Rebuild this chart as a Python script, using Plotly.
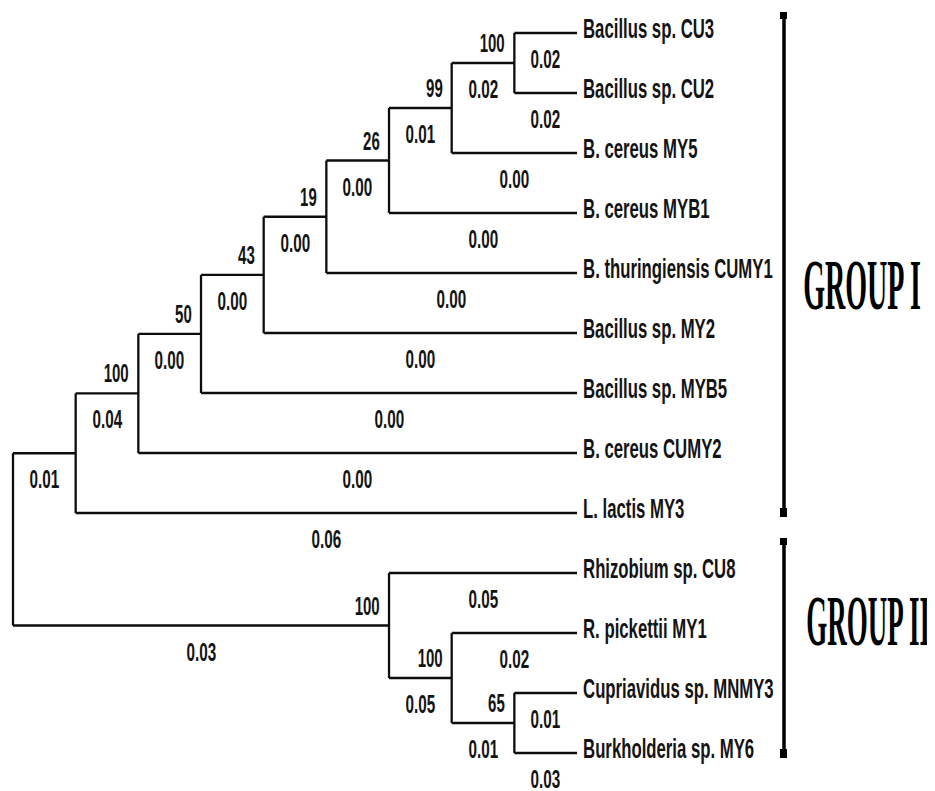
import json
import plotly.graph_objects as go

# ---------------- data ----------------
tip_labels = [
    "Bacillus sp. CU3", "Bacillus sp. CU2", "B. cereus MY5", "B. cereus MYB1",
    "B. thuringiensis CUMY1", "Bacillus sp. MY2", "Bacillus sp. MYB5",
    "B. cereus CUMY2", "L. lactis MY3", "Rhizobium sp. CU8", "R. pickettii MY1",
    "Cupriavidus sp. MNMY3", "Burkholderia sp. MY6",
]
edge_parent = ["H", "H", "G", "G", "F", "F", "E", "E", "D", "D", "C", "C",
               "B", "B", "A", "A", "root", "root", "K", "K", "J", "J", "I", "I"]
edge_child = ["Bacillus sp. CU3", "Bacillus sp. CU2", "H", "B. cereus MY5",
              "G", "B. cereus MYB1", "F", "B. thuringiensis CUMY1",
              "E", "Bacillus sp. MY2", "D", "Bacillus sp. MYB5",
              "C", "B. cereus CUMY2", "B", "L. lactis MY3", "A", "K",
              "Rhizobium sp. CU8", "J", "R. pickettii MY1", "I",
              "Cupriavidus sp. MNMY3", "Burkholderia sp. MY6"]
branch_lengths = [0.02, 0.02, 0.02, 0.00, 0.01, 0.00, 0.00, 0.00, 0.00, 0.00,
                  0.00, 0.00, 0.00, 0.00, 0.04, 0.06, 0.01, 0.03, 0.05, 0.05,
                  0.02, 0.01, 0.01, 0.03]
bootstrap_nodes = ["H", "G", "F", "E", "D", "C", "B", "K", "J", "I"]
bootstrap_values = [100, 99, 26, 19, 43, 50, 100, 100, 100, 65]
group_names = ["GROUP I", "GROUP II"]

# ---------------- layout of the tree (topology only, tips aligned) -------------
children = {}
for p, c in zip(edge_parent, edge_child):
    children.setdefault(p, []).append(c)

node_y = {t: i for i, t in enumerate(tip_labels)}
height = {t: 0 for t in tip_labels}


def place(n):
    if n in node_y:
        return
    for c in children[n]:
        place(c)
    node_y[n] = sum(node_y[c] for c in children[n]) / len(children[n])
    height[n] = 1 + max(height[c] for c in children[n])


place("root")
max_h = height["root"]
node_x = {n: max_h - h for n, h in height.items()}

# pixel mapping of the data axes (page body has an 8px margin)
PAD = 8
W, H = 935 - PAD, 791 - PAD
X0, XS = 13.0 - PAD, 62.67   # px of level 0, px per level
Y0, YS = 33.0 - PAD, 60.0    # px of tip 0, px per tip
x_range = [-X0 / XS, (W - X0) / XS]
y_range = [(H - Y0) / YS, -Y0 / YS]


def px2x(px):
    return (px - PAD - X0) / XS


def px2y(py):
    return (py - PAD - Y0) / YS


LINE = "#0d0d0d"
xs, ys = [], []
for n, ch in children.items():
    cy = [node_y[c] for c in ch]
    xs += [node_x[n], node_x[n], None]
    ys += [min(cy), max(cy), None]
for p, c in zip(edge_parent, edge_child):
    xs += [node_x[p], node_x[c], None]
    ys += [node_y[c], node_y[c], None]

fig = go.Figure()
fig.add_trace(go.Scatter(x=xs, y=ys, mode="lines",
                         line=dict(color=LINE, width=2.3),
                         hoverinfo="skip", showlegend=False))

SANS = "Liberation Sans, Arial, sans-serif"
TXT = "#141414"
ann, scales, origins = [], [], []
for p, c, v in zip(edge_parent, edge_child, branch_lengths):
    ann.append(dict(x=(node_x[p] + node_x[c]) / 2, y=node_y[c], text=f"{v:.2f}",
                    showarrow=False, yshift=-26, xanchor="center", yanchor="middle",
                    font=dict(family=SANS, size=25, color=TXT, weight="bold")))
    scales.append(0.61)
    origins.append("center")
for n, b in zip(bootstrap_nodes, bootstrap_values):
    ann.append(dict(x=node_x[n], y=node_y[n], text=str(b), showarrow=False,
                    xanchor="right", yanchor="middle", xshift=-7, yshift=20,
                    font=dict(family=SANS, size=25, color=TXT, weight="bold")))
    scales.append(0.6)
    origins.append("right")
for t in tip_labels:
    ann.append(dict(x=node_x[t], y=node_y[t], text=t, showarrow=False,
                    xanchor="left", yanchor="middle", xshift=4, yshift=4,
                    font=dict(family=SANS, size=27, color=TXT, weight="bold")))
    scales.append(0.62)
    origins.append("left")

# group brackets and labels
brackets = [(12, 517), (538, 758)]
label_pos = [(862, 285), (868, 621)]
label_scale = [0.39, 0.375]
shapes = []
for (top, bot), name, (lx, ly), s in zip(brackets, group_names, label_pos, label_scale):
    shapes.append(dict(type="line", xref="x", yref="y", x0=px2x(784), x1=px2x(784),
                       y0=px2y(top), y1=px2y(bot), line=dict(color="#000", width=3.5)))
    for a, b in ((top, top + 7), (bot - 9, bot)):
        shapes.append(dict(type="rect", xref="x", yref="y", x0=px2x(780), x1=px2x(787),
                           y0=px2y(a), y1=px2y(b), line=dict(width=0),
                           fillcolor="#000"))
    ann.append(dict(x=px2x(lx), y=px2y(ly), text=name, showarrow=False,
                    xanchor="center", yanchor="middle",
                    font=dict(family="Liberation Serif, Times New Roman, serif",
                              size=72, color="#000", weight="bold")))
    scales.append(s)
    origins.append("center")

fig.update_layout(
    width=W, height=H, margin=dict(l=0, r=0, t=0, b=0),
    paper_bgcolor="white", plot_bgcolor="white",
    xaxis=dict(range=x_range, visible=False, fixedrange=True),
    yaxis=dict(range=y_range, visible=False, fixedrange=True),
    annotations=ann, shapes=shapes,
)

# the reference uses horizontally condensed lettering: squeeze each label
post = """
var gd = document.getElementById('{plot_id}');
var S = %s, O = %s;
gd.querySelectorAll('g.annotation').forEach(function(g){
  var i = +g.getAttribute('data-index');
  var t = g.querySelector('text.annotation-text');
  if (!t) return;
  t.style.transformBox = 'fill-box';
  t.style.transformOrigin = O[i] + ' center';
  t.style.transform = 'scaleX(' + S[i] + ')';
});
""" % (json.dumps(scales), json.dumps(origins))

fig.write_html("out.html", post_script=post)
